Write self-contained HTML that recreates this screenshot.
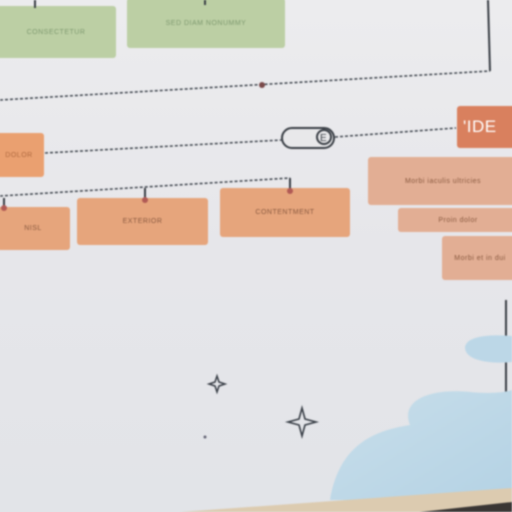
<!DOCTYPE html>
<html><head><meta charset="utf-8"><style>
html,body{margin:0;padding:0;}
body{width:512px;height:512px;overflow:hidden;position:relative;background:linear-gradient(180deg,#ececee 0%,#e6e6ea 50%,#e2e4e8 100%);font-family:"Liberation Sans",sans-serif;}
#w{position:absolute;left:0;top:0;width:512px;height:512px;filter:blur(0.8px);}
.b{position:absolute;display:flex;align-items:center;justify-content:center;text-align:center;font-size:7px;color:#8a5a40;border-radius:3px;letter-spacing:0.5px;}
.g{background:#bccfa4;color:#7f9a70;}
.o{background:#e6a57c;}
</style></head><body><div id="w">
<div class="b g" style="left:-4px;top:6px;width:120px;height:52px;">CONSECTETUR</div>
<div class="b g" style="left:127px;top:-2px;width:158px;height:50px;">SED DIAM NONUMMY</div>
<div class="b o" style="left:-6px;top:133px;width:50px;height:44px;background:#eaa070;color:#b06a40">DOLOR</div>
<div class="b" style="left:457px;top:106px;width:60px;height:42px;background:#d9805e;color:#fff;font-size:17px;justify-content:flex-start;padding-left:6px;box-sizing:border-box">'IDE</div>
<div class="b o" style="left:-4px;top:207px;width:74px;height:43px;">NISL</div>
<div class="b o" style="left:77px;top:198px;width:131px;height:47px;">EXTERIOR</div>
<div class="b o" style="left:220px;top:188px;width:130px;height:49px;">CONTENTMENT</div>
<div class="b o" style="left:368px;top:157px;width:150px;height:48px;background:#e2ae94;">Morbi iaculis ultricies</div>
<div class="b o" style="left:398px;top:208px;width:120px;height:24px;background:#e2ae94;">Proin dolor</div>
<div class="b o" style="left:442px;top:236px;width:76px;height:44px;background:#e2ae94;">Morbi et in dui</div>
<svg width="512" height="512" style="position:absolute;left:0;top:0">
<defs><linearGradient id="bl" x1="0" y1="0" x2="1" y2="1"><stop offset="0" stop-color="#c8deea"/><stop offset="1" stop-color="#b4d2e4"/></linearGradient></defs>
<g stroke="#4a5058" stroke-width="1.6" fill="none" stroke-dasharray="3 2">
<path d="M0 100 L490 71"/>
<path d="M45 153 L282 140"/>
<path d="M335 137 L456 128"/>
<path d="M0 196 L290 178"/>
</g>
<g stroke="#3a3f46" stroke-width="2" fill="none">
<path d="M490 71 L488 0"/>
<path d="M290 178 L290 192"/>
<path d="M35 0 L35 8"/><path d="M205 0 L205 5"/>
<path d="M4 198 L4 210"/><path d="M145 188 L145 200"/>
<rect x="282" y="128" width="52" height="20" rx="10" fill="#e8e8ea"/>
<circle cx="324" cy="137" r="7" fill="#e8e8ea"/>
<path d="M506 300 L506 492"/>
</g>
<text x="320" y="141" font-size="10" fill="#3a3f46" font-family="Liberation Sans">E</text>
<circle cx="262" cy="85" r="3" fill="#7a4a4a"/>
<circle cx="290" cy="191" r="3" fill="#b05a55"/>
<circle cx="145" cy="200" r="3" fill="#b05a55"/>
<circle cx="4" cy="208" r="3" fill="#b05a55"/>
<path d="M330 500 C340 440 380 430 410 425 C400 400 430 388 470 392 C500 395 512 390 512 390 L512 500 Z" fill="url(#bl)"/>
<path d="M465 348 C465 336 490 334 512 336 L512 362 C495 364 466 362 465 348 Z" fill="#bcd7e7"/>
<path d="M217 376 L219 382 L225 384 L219 386 L217 392 L215 386 L209 384 L215 382 Z" fill="none" stroke="#3a4048" stroke-width="1.5"/>
<path d="M302 408 L305 419 L316 422 L305 425 L302 436 L299 425 L288 422 L299 419 Z" fill="none" stroke="#3a4048" stroke-width="1.6"/>
<circle cx="205" cy="437" r="1.5" fill="#667"/>
<path d="M180 512 L512 488 L512 512 Z" fill="#dccbb0"/>
<path d="M420 512 L512 502 L512 512 Z" fill="#3a3634"/>
</svg>
</div></body></html>
